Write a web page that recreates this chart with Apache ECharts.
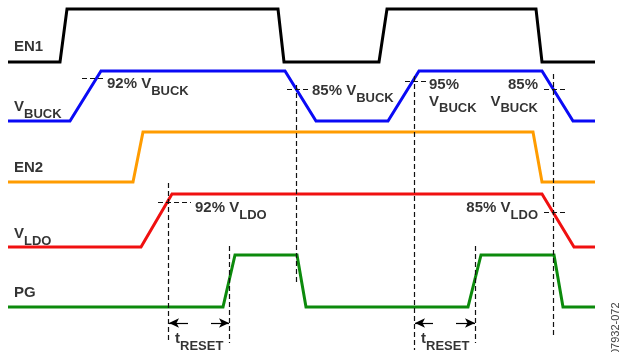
<!DOCTYPE html>
<html>
<head>
<meta charset="utf-8">
<script src="https://cdn.jsdelivr.net/npm/echarts@6/dist/echarts.min.js"></script>
<style>
  html, body { margin: 0; padding: 0; background: #fff; }
  #chart { width: 623px; height: 352px; }
</style>
</head>
<body>
<div id="chart"></div>
<script>
// --- waveforms: [time, level] in diagram units ---
const en1   = [[8,62],[60,62],[67,9],[278,9],[284,62],[379,62],[387,9],[536,9],[542,62],[595,62]];
const vbuck = [[8,121],[70,121],[101,71],[285,71],[316,121],[388,121],[419,71],[542,71],[573,121],[595,121]];
const en2   = [[8,182],[133,182],[143,132],[533,132],[542,182],[595,182]];
const vldo  = [[8,247],[141,247],[172,194],[542,194],[574,247],[595,247]];
const pg    = [[8,307],[223,307],[235,255],[297,255],[306,307],[468,307],[481,255],[554,255],[563,307],[595,307]];

// threshold / timing guides
const guides = [
  [[296,85],[296,283]], [[414,76],[414,350]], [[553,74],[553,336]],
  [[168,183],[168,341]], [[229,246],[229,343]], [[475,246],[475,343]],
  [[82,78],[103,78]], [[287,89],[309,89]], [[405,81],[427,81]],
  [[544,89],[566,89]], [[158,202],[191,202]], [[544,212],[566,212]]
];
const arrows = [
  [[188,323],[169,323]], [[211,323],[229,323]],
  [[433,323],[415,323]], [[456,323],[475,323]]
];

// annotations: [x, y, text, side]
const notes = [
  [14, 48, '{m|EN1}', 'r'],
  [14, 108, '{m|V}{s|BUCK}', 'r'],
  [14, 169, '{m|EN2}', 'r'],
  [14, 235, '{m|V}{s|LDO}', 'r'],
  [14, 294, '{m|PG}', 'r'],
  [107, 85, '{m|92% V}{s|BUCK}', 'r'],
  [312, 92, '{m|85% V}{s|BUCK}', 'r'],
  [429, 94, '{m|95%}\n{m|V}{s|BUCK}', 'r'],
  [538, 94, '{m|85%}\n{m|V}{s|BUCK}', 'l'],
  [195, 209, '{m|92% V}{s|LDO}', 'r'],
  [538, 209, '{m|85% V}{s|LDO}', 'l'],
  [175, 340, '{m|t}{s|RESET}', 'r'],
  [421, 340, '{m|t}{s|RESET}', 'r']
];

const chart = echarts.init(document.getElementById('chart'));

function trace(data, color) {
  return {
    type: 'line', data: data, symbol: 'none', silent: true,
    lineStyle: { color: color, width: 3, join: 'miter' }
  };
}

const font = 'Liberation Sans, Arial, sans-serif';
const rich = {
  m: { fontSize: 15, fontWeight: 'bold', color: '#000', lineHeight: 17, verticalAlign: 'top', fontFamily: font },
  s: { fontSize: 13, fontWeight: 'bold', color: '#000', lineHeight: 13, padding: [8, 0, 0, 0], verticalAlign: 'top', fontFamily: font }
};

chart.setOption({
  animation: false,
  grid: { left: 0, right: 0, top: 0, bottom: 0 },
  xAxis: { type: 'value', min: 0, max: 623, show: false },
  yAxis: { type: 'value', min: 0, max: 352, inverse: true, show: false },
  graphic: [{
    type: 'text', x: 621, y: 355, rotation: Math.PI / 2,
    style: { text: '07932-072', fontSize: 11, fill: '#444', textAlign: 'left', textVerticalAlign: 'bottom', fontFamily: font }
  }],
  series: [
    trace(en1, '#000000'),
    trace(vbuck, '#0a0af5'),
    trace(en2, '#ff9c00'),
    trace(vldo, '#f01010'),
    trace(pg, '#0c8a0c'),
    {
      type: 'line', data: [], silent: true,
      markLine: {
        silent: true, symbol: 'none', label: { show: false },
        lineStyle: { color: '#111', width: 1.2, type: [5, 3] },
        data: guides.map(g => [{ coord: g[0] }, { coord: g[1] }])
      }
    },
    {
      type: 'line', data: [], silent: true,
      markLine: {
        silent: true, symbol: ['none', 'arrow'], symbolSize: [7, 10], label: { show: false },
        lineStyle: { color: '#000', width: 1.2, type: 'solid' },
        data: arrows.map(a => [{ coord: a[0] }, { coord: a[1] }])
      }
    },
    {
      type: 'scatter', symbolSize: 0, silent: true,
      data: notes.map(n => ({
        value: [n[0], n[1]],
        label: {
          show: true, formatter: n[2], rich: rich, distance: 0,
          position: n[3] === 'r' ? 'right' : 'left',
          align: n[3] === 'r' ? 'left' : 'right'
        }
      }))
    }
  ]
});
</script>
</body>
</html>
